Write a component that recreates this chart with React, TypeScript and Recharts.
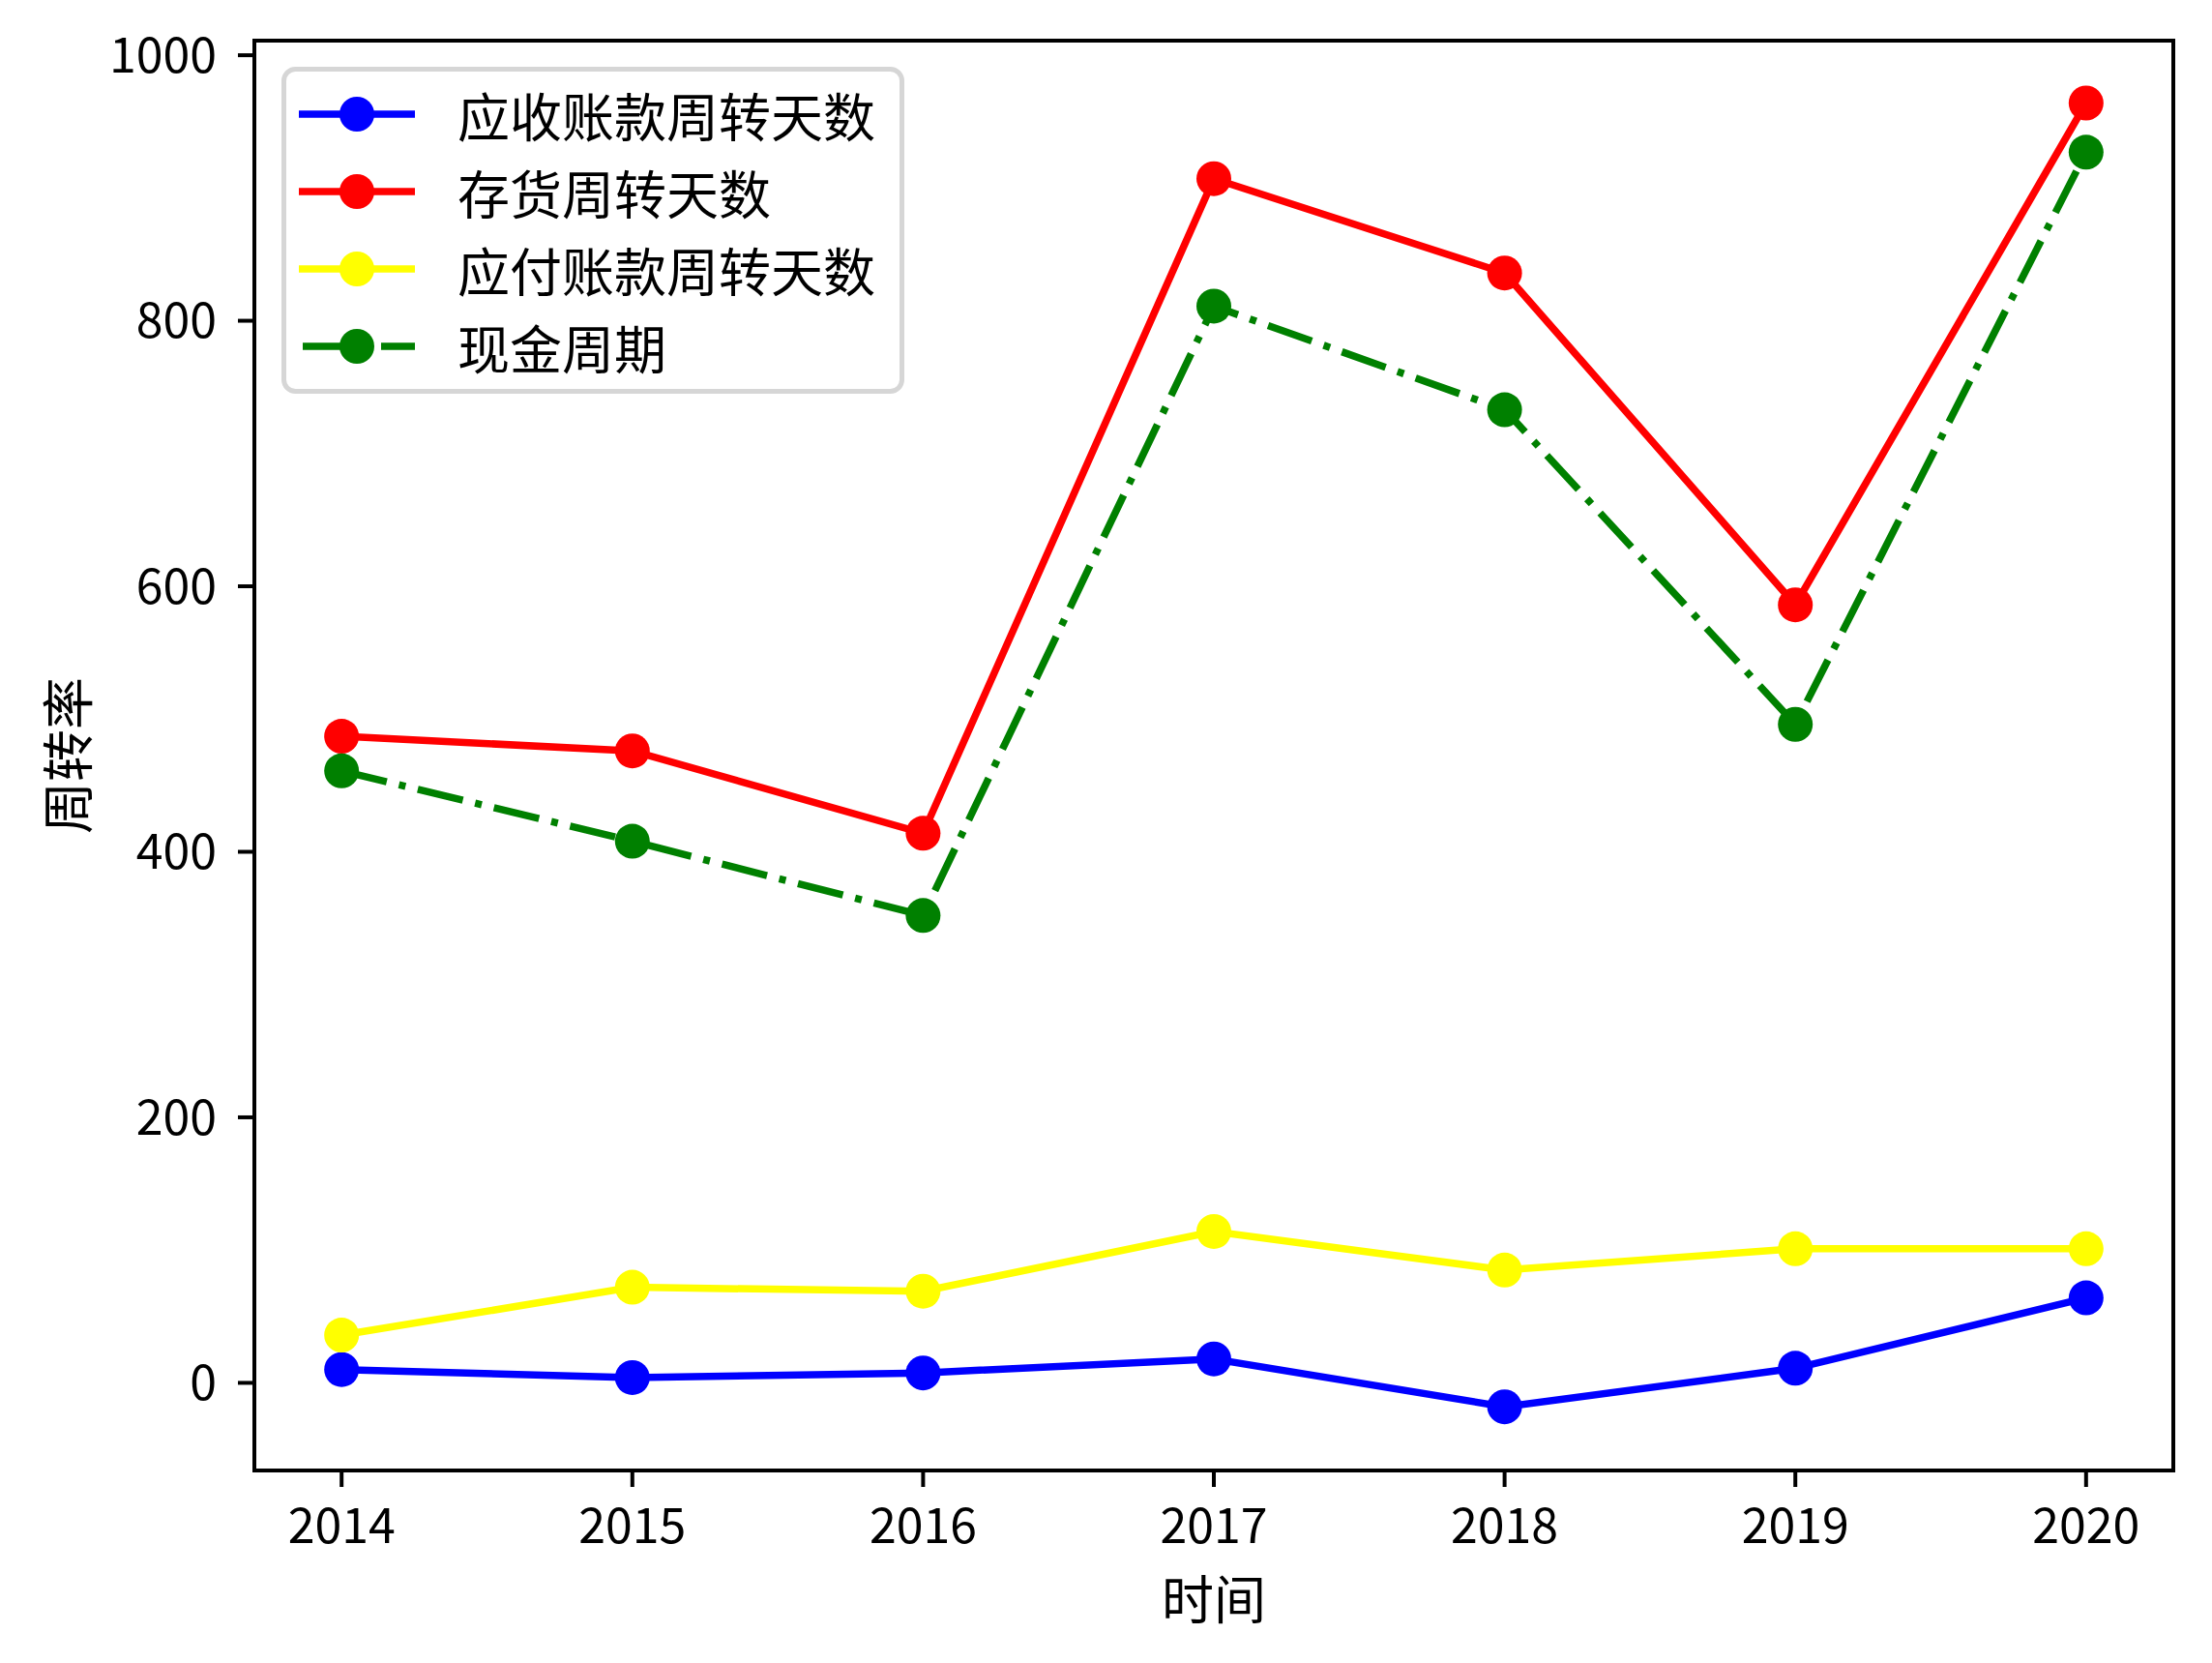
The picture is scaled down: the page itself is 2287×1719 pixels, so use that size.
import { LineChart, Line, XAxis, YAxis, Legend, Label, ReferenceArea } from "recharts";

const years = [2014, 2015, 2016, 2017, 2018, 2019, 2020];
const receivableDays = [10, 4, 7.5, 18, -18, 11, 64];
const inventoryDays = [487, 476, 414, 907, 836, 586, 964];
const payableDays = [36, 72, 69, 114, 85, 101, 101];
const cashCycle = [461, 408, 352, 811, 733, 496, 927];
const yTicks = [0, 200, 400, 600, 800, 1000];

const seriesNames = ["应收账款周转天数", "存货周转天数", "应付账款周转天数", "现金周期"];
const seriesColors = ["#0000ff", "#ff0000", "#ffff00", "#008000"];
const dashDot = "48 13 7 13";

const rows = years.map((year, i) => ({
  year,
  receivable: receivableDays[i],
  inventory: inventoryDays[i],
  payable: payableDays[i],
  cash: cashCycle[i],
}));

const FONT = '"Noto Sans CJK SC", "Noto Sans", sans-serif';
const xDomain = [2013.7, 2020.3];
const yDomain = [-66, 1011];

function renderLegend() {
  return (
    <svg width={644} height={338} style={{ display: "block" }}>
      <rect x={2.5} y={2.5} width={639} height={333} rx={12} fill="#fff" fillOpacity={0.8} stroke="#d6d6d6" strokeWidth={5} />
      {seriesNames.map((name, i) => {
        const cy = 49 + 80 * i;
        const dashed = i === 3;
        return (
          <g key={name}>
            <line
              x1={dashed ? 22 : 18}
              x2={138}
              y1={cy}
              y2={cy}
              stroke={seriesColors[i]}
              strokeWidth={7.5}
              strokeDasharray={dashed ? dashDot : undefined}
            />
            <circle cx={78} cy={cy} r={18} fill={seriesColors[i]} />
            <text x={182} y={cy} dominantBaseline="central" fontSize={54} fontFamily={FONT} fill="#000">
              {name}
            </text>
          </g>
        );
      })}
    </svg>
  );
}

export default function App() {
  const tickStyle = { fontSize: 50, fill: "#000", fontFamily: FONT };
  const lineStyle = { stroke: "#000", strokeWidth: 4 };
  return (
    <div style={{ position: "absolute", left: 0, top: 0, width: 2287, height: 1719, background: "#fff" }}>
      <LineChart width={2287} height={1719} data={rows} margin={{ top: 42, right: 40, left: 0, bottom: 0 }}>
        <XAxis
          dataKey="year"
          type="number"
          domain={xDomain}
          ticks={years}
          allowDataOverflow
          height={199}
          tick={tickStyle}
          tickSize={17}
          tickMargin={22}
          axisLine={lineStyle}
          tickLine={lineStyle}
        >
          <Label value="时间" position="insideBottom" offset={45} style={{ fontSize: 54, fill: "#000", fontFamily: FONT }} />
        </XAxis>
        <YAxis
          type="number"
          domain={yDomain}
          ticks={yTicks}
          allowDataOverflow
          width={263}
          tick={tickStyle}
          tickSize={17}
          tickMargin={22}
          axisLine={lineStyle}
          tickLine={lineStyle}
        >
          <Label value="周转率" angle={-90} position="insideLeft" offset={72} style={{ fontSize: 54, fill: "#000", fontFamily: FONT, textAnchor: "middle" }} />
        </YAxis>
        <ReferenceArea
          x1={xDomain[0]}
          x2={xDomain[1]}
          y1={yDomain[0]}
          y2={yDomain[1]}
          fill="#fff"
          fillOpacity={0}
          stroke="#000"
          strokeWidth={4}
          ifOverflow="visible"
        />
        <Legend
          layout="vertical"
          align="center"
          verticalAlign="middle"
          content={renderLegend}
          wrapperStyle={{ left: 291, top: 69, width: 644, height: 338 }}
        />
        <Line dataKey="receivable" stroke={seriesColors[0]} strokeWidth={7.5} dot={{ r: 18, fill: seriesColors[0], stroke: "none" }} activeDot={false} isAnimationActive={false} />
        <Line dataKey="inventory" stroke={seriesColors[1]} strokeWidth={7.5} dot={{ r: 18, fill: seriesColors[1], stroke: "none" }} activeDot={false} isAnimationActive={false} />
        <Line dataKey="payable" stroke={seriesColors[2]} strokeWidth={7.5} dot={{ r: 18, fill: seriesColors[2], stroke: "none" }} activeDot={false} isAnimationActive={false} />
        <Line dataKey="cash" stroke={seriesColors[3]} strokeWidth={7.5} strokeDasharray={dashDot} dot={{ r: 18, fill: seriesColors[3], stroke: "none" }} activeDot={false} isAnimationActive={false} />
      </LineChart>
    </div>
  );
}
